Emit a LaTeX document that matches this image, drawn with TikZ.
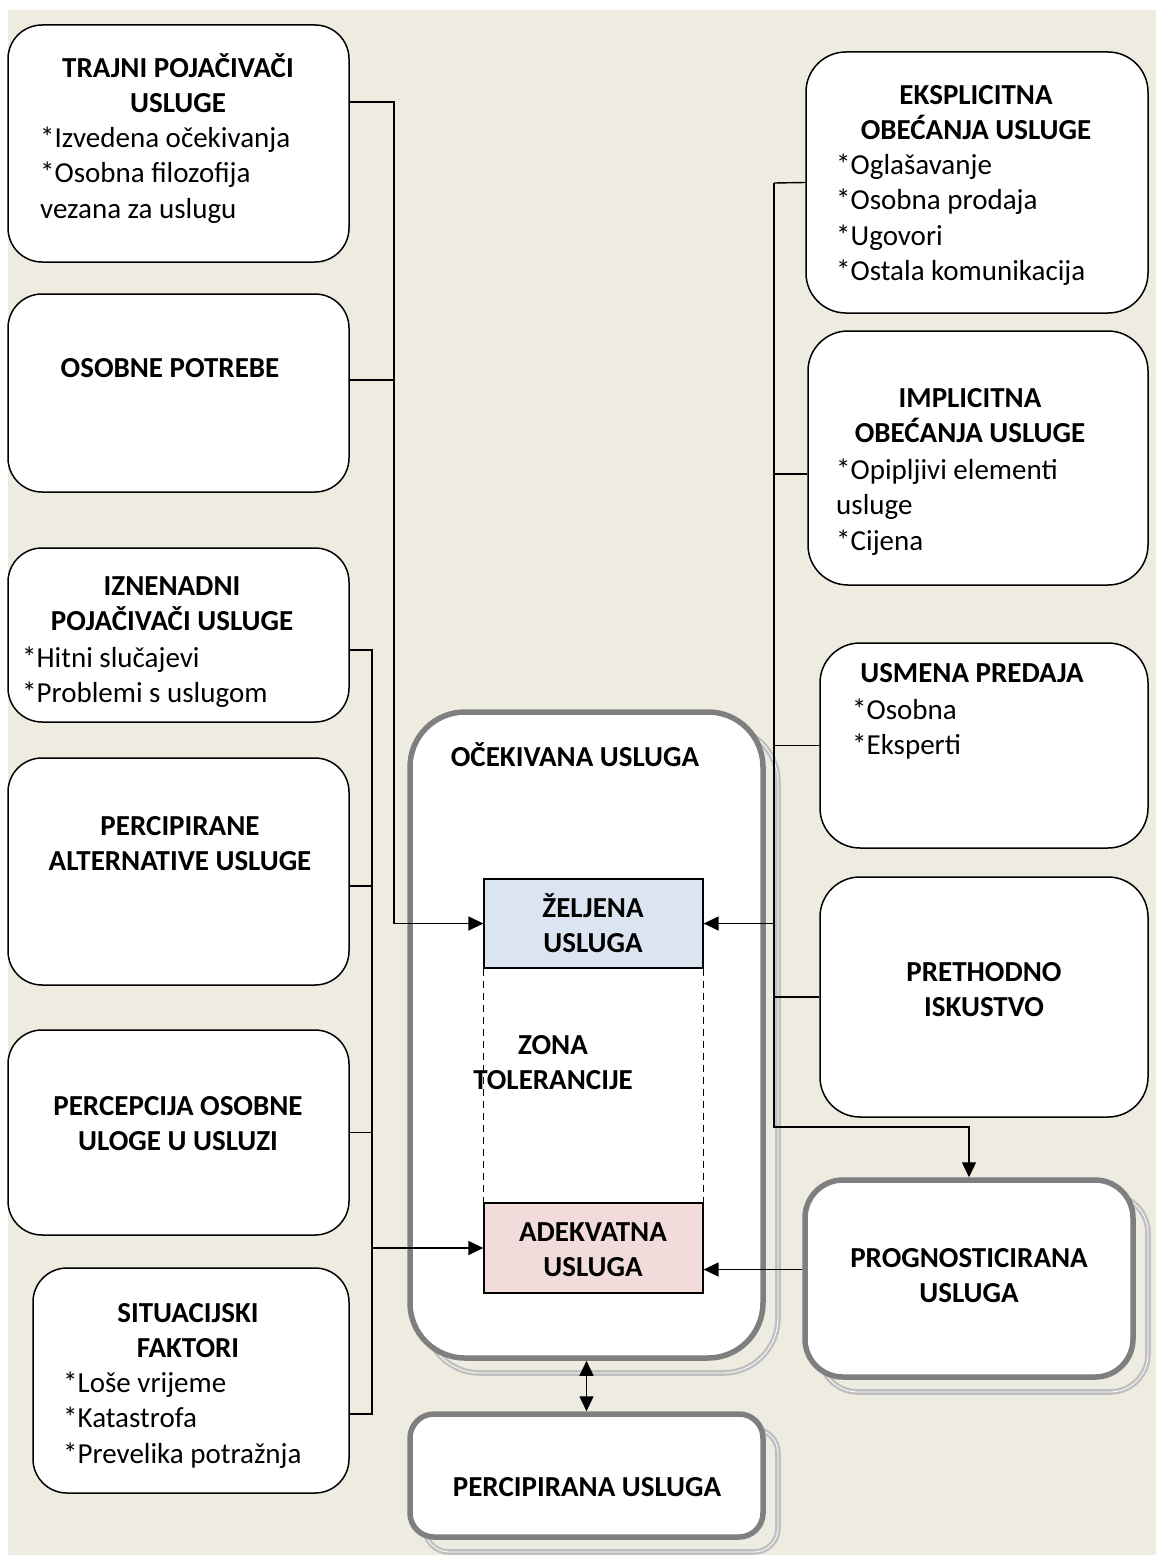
\documentclass[tikz,border=0pt]{standalone}
\usepackage{fontspec}
\setmainfont{Carlito}
\usepackage{tikz}
\usetikzlibrary{arrows.meta}
\usetikzlibrary{shadows}
\usepackage{xcolor}
\definecolor{bgtan}{HTML}{EEECE1}
\definecolor{rimgray}{HTML}{7F7F7F}
\definecolor{shadegray}{HTML}{BFBFBF}
\definecolor{wishblue}{HTML}{DBE5F1}
\definecolor{enoughpink}{HTML}{F2DCDB}

\begin{document}
\begin{tikzpicture}[x=1pt, y=-1pt]
        % ================= 样式定义 =================
        \tikzset{
            % 左右两侧的白色圆角框
            box/.style={draw=black, line width=1.5pt, fill=white, rounded corners=34pt, inner sep=0pt},
            % 灰色粗边框 + 浅灰复制阴影
            bigbox/.style={draw=rimgray, line width=5.5pt, fill=white, inner sep=0pt,
                general shadow={shadow xshift=15pt, shadow yshift=-15pt, draw=shadegray,
                    line width=2.4pt, double=white, double distance=0.8pt}},
            % 中间的两个小矩形
            zonebox/.style={draw=black, line width=1.3pt, inner sep=0pt, minimum width=219pt},
            % 文字 (多行时 base 为最后一行的基线)
            title/.style={font=\fontsize{29}{35}\selectfont\bfseries, align=center, inner sep=0pt, anchor=base},
            item/.style={font=\fontsize{29}{35.5}\selectfont, align=left, inner sep=0pt, anchor=base west},
            % 连线
            link/.style={line width=1.4pt, black},
            arrow/.style={link, -{Triangle[length=15pt, width=14pt]}},
            zoneline/.style={line width=1.5pt, dash pattern=on 7pt off 5pt}
        }

        % ================= 背景 =================
        \useasboundingbox (0,0) rectangle (1156,1555);
        \fill[bgtan] (8,10) rectangle (1156,1555);

        % ================= 1. 左侧框 =================
        \node[box, minimum width=341pt, minimum height=237pt] (trajni) at (178.5,143.5) {};
        \node[box, minimum width=341pt, minimum height=198pt] (osobne) at (178.5,393) {};
        \node[box, minimum width=341pt, minimum height=174pt] (iznen) at (178.5,635) {};
        \node[box, minimum width=341pt, minimum height=227pt] (alter) at (178.5,871.5) {};
        \node[box, minimum width=341pt, minimum height=205pt] (uloga) at (178.5,1132.5) {};
        \node[box, minimum width=316pt, minimum height=225pt] (situ) at (191,1380.5) {};

        \node[title] (trajniT) at (178,112) {TRAJNI POJAČIVAČI\\USLUGE};
        \node[item] (trajniL) at (40,218) {*Izvedena očekivanja\\*Osobna filozofija\\vezana za uslugu};
        \node[title] (osobneT) at (170,377) {OSOBNE POTREBE};
        \node[title] (iznenT) at (172,630) {IZNENADNI\\POJAČIVAČI USLUGE};
        \node[item] (iznenL) at (22,702.5) {*Hitni slučajevi\\*Problemi s uslugom};
        \node[title] (alterT) at (180,870) {PERCIPIRANE\\ALTERNATIVE USLUGE};
        \node[title] (ulogaT) at (178,1150) {PERCEPCIJA OSOBNE\\ULOGE U USLUZI};
        \node[title] (situT) at (188,1357) {SITUACIJSKI\\FAKTORI};
        \node[item] (situL) at (63,1463) {*Loše vrijeme\\*Katastrofa\\*Prevelika potražnja};

        % ================= 2. 右侧框 =================
        \node[box, rounded corners=40pt, minimum width=342pt, minimum height=261pt] (ekspl) at (977,182.5) {};
        \node[box, rounded corners=40pt, minimum width=340pt, minimum height=254pt] (impl) at (978,458) {};
        \node[box, rounded corners=40pt, minimum width=328pt, minimum height=205pt] (usmena) at (984,745.5) {};
        \node[box, rounded corners=40pt, minimum width=328pt, minimum height=240pt] (iskust) at (984,997) {};

        \node[title] (eksplT) at (976,139) {EKSPLICITNA\\OBEĆANJA USLUGE};
        \node[item] (eksplL) at (836,280.5) {*Oglašavanje\\*Osobna prodaja\\*Ugovori\\*Ostala komunikacija};
        \node[title] (implT) at (970,442) {IMPLICITNA\\OBEĆANJA USLUGE};
        \node[item] (implL) at (836,550) {*Opipljivi elementi\\usluge\\*Cijena};
        \node[title] (usmenaT) at (972,682) {USMENA PREDAJA};
        \node[item] (usmenaL) at (852,754.5) {*Osobna\\*Eksperti};
        \node[title] (iskustT) at (984,1016) {PRETHODNO\\ISKUSTVO};

        % ================= 3. 中间框 =================
        \node[bigbox, rounded corners=55pt, minimum width=353pt, minimum height=646pt] (ocek) at (586.5,1035) {};
        \node[bigbox, rounded corners=24pt, minimum width=353pt, minimum height=123pt] (percip) at (586.5,1475.5) {};
        \node[bigbox, rounded corners=38pt, minimum width=328pt, minimum height=197pt] (prog) at (969,1278.5) {};

        \node[zonebox, fill=wishblue, minimum height=89pt] (zeljena) at (593.5,923.5) {};
        \node[zonebox, fill=enoughpink, minimum height=90pt] (adekv) at (593.5,1248) {};
        \draw[zoneline] (zeljena.south west) -- (adekv.north west);
        \draw[zoneline] (zeljena.south east) -- (adekv.north east);

        \node[title] (ocekT) at (575,766) {OČEKIVANA USLUGA};
        \node[title] (zeljenaT) at (593,952) {ŽELJENA\\USLUGA};
        \node[title] (zonaT) at (553,1089) {ZONA\\TOLERANCIJE};
        \node[title] (adekvT) at (593,1276) {ADEKVATNA\\USLUGA};
        \node[title] (percipT) at (587,1496) {PERCIPIRANA USLUGA};
        \node[title] (progT) at (969,1302) {PROGNOSTICIRANA\\USLUGA};

        % ================= 4. 连线 =================
        % 左侧第一条竖线 -> želјena
        \coordinate (aTop) at (394,102);
        \coordinate (aOsob) at (394,380);
        \draw[arrow] (trajni.east |- aTop) -- (aTop) |- (zeljena.west);
        \draw[link] (osobne.east |- aOsob) -- (aOsob);

        % 左侧第二条竖线 -> adekvatna
        \coordinate (cTop) at (372,650);
        \coordinate (cAlt) at (372,886);
        \coordinate (cBot) at (372,1414);
        \draw[link] (iznen.east |- cTop) -- (cTop) -- (cBot) -- (situ.east |- cBot);
        \draw[link] (alter.east |- cAlt) -- (cAlt);
        \draw[link] (uloga.east) -- (uloga.east -| cTop);
        \draw[arrow] (adekv.west -| cTop) -- (adekv.west);

        % 右侧竖线 -> želјena, prognosticirana
        \coordinate (bTop) at (774,183);
        \coordinate (bImpl) at (774,474);
        \coordinate (bBot) at (774,1127);
        \draw[link] (ekspl.west) -- (bTop);
        \draw[link] (impl.west |- bImpl) -- (bImpl);
        \draw[link] (usmena.west) -- (usmena.west -| bTop);
        \draw[link] (iskust.west) -- (iskust.west -| bTop);
        \draw[arrow] (zeljena.east -| bTop) -- (zeljena.east);
        \draw[arrow] (bTop) -- (bBot) -| (prog.north);

        % prognosticirana -> adekvatna
        \draw[arrow] ([yshift=9pt]prog.west) -- ([yshift=9pt]prog.west -| adekv.east);

        % očekivana <-> percipirana
        \draw[link, {Triangle[length=15pt, width=14pt]}-{Triangle[length=15pt, width=14pt]}] (ocek.south) -- (percip.north);

    \end{tikzpicture}
\end{document}
